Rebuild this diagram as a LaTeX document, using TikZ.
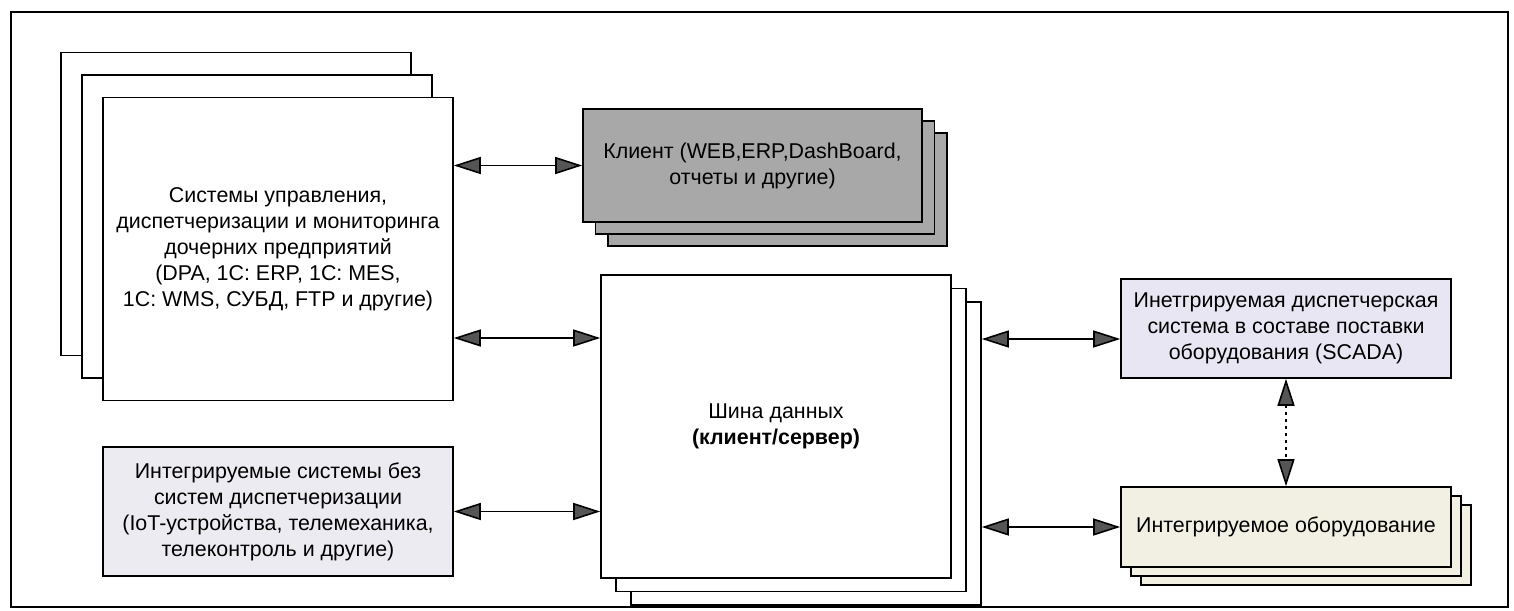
\documentclass[tikz,border=0pt]{standalone}
\usepackage{fontspec}
\setmainfont{Liberation Sans}
\usepackage{tikz}
\usetikzlibrary{arrows.meta}
\usetikzlibrary{calc}

\definecolor{clientgray}{HTML}{A8A8A8}
\definecolor{tipgray}{HTML}{555555}
\definecolor{scadafill}{HTML}{E8E6F2}
\definecolor{eqfill}{HTML}{F1F0E2}
\definecolor{iotfill}{HTML}{ECEBF1}

\begin{document}
\begin{tikzpicture}[x=0.5pt,y=-0.5pt,>={Triangle[length=13.5pt,width=8.5pt,fill=tipgray]},
  every node/.style={font=\fontsize{10.7}{13}\selectfont,align=center},
  box/.style={draw=black,line width=0.8pt,inner sep=0pt,fill=white},
  big sheet/.style={box,minimum width=175pt,minimum height=151.5pt},
  client/.style={box,fill=clientgray,minimum width=169.5pt,minimum height=56.5pt},
  equip/.style={box,fill=eqfill,minimum width=165pt,minimum height=40pt},
  link/.style={<->,line width=0.8pt}]

  \useasboundingbox (0,0) rectangle (1514,610);
  \draw[line width=0.7pt] (11,12) rectangle (1508,607);

  \foreach \k in {2,1}
    \node[big sheet] (ctl\k) at ($(278,249)+\k*(-21,-22.5)$) {};
  \node[big sheet] (ctl) at (278,249) {Системы управления,\\диспетчеризации и мониторинга\\дочерних предприятий\\(DPA, 1С: ERP, 1С: MES,\\1С: WMS, СУБД, FTP и другие)};

  \foreach \k in {2,1}
    \node[client] (cli\k) at ($(752.5,165.5)+\k*(12.5,12)$) {};
  \node[client] (cli) at (752.5,165.5) {Клиент (WEB,ERP,DashBoard,\\отчеты и другие)};

  \foreach \k in {2,1}
    \node[big sheet] (bus\k) at ($(776,426.5)+\k*(15,13.5)$) {};
  \node[big sheet] (bus) at (776,426.5) {Шина данных\\\textbf{(клиент/сервер)}};

  \node[box,fill=iotfill,minimum width=175pt,minimum height=64.5pt] (iot) at (278,511.5) {Интегрируемые системы без\\систем диспетчеризации\\(IoT-устройства, телемеханика,\\телеконтроль и другие)};

  \node[box,fill=scadafill,minimum width=165pt,minimum height=49.5pt] (scada) at (1286,328.5) {Инетгрируемая диспетчерская\\система в составе поставки\\оборудования (SCADA)};

  \foreach \k in {2,1}
    \node[equip] (eq\k) at ($(1286,527)+\k*(10,9)$) {};
  \node[equip] (eq) at (1286,527) {Интегрируемое оборудование};

  \coordinate (row1) at (0,338);
  \coordinate (row2) at (0,339);

  \draw[link] (cli.west -| ctl.east) -- (cli.west);
  \draw[link] (ctl.east |- row1) -- (bus.west |- row1);
  \draw[link] (iot.east) -- (iot.east -| bus.west);
  \draw[link] (bus2.east |- row2) -- (scada.west |- row2);
  \draw[link] (eq.west -| bus2.east) -- (eq.west);
  \draw[link,dash pattern=on 1.5pt off 2pt] (scada) -- (eq);

\end{tikzpicture}
\end{document}
